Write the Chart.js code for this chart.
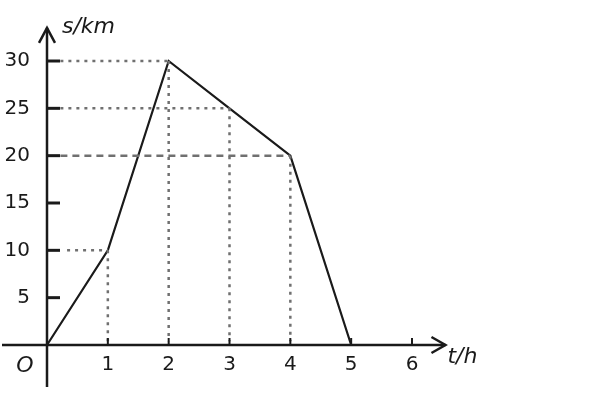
<!DOCTYPE html>
<html>
<head>
<meta charset="utf-8">
<script src="https://cdn.jsdelivr.net/npm/chart.js@4"></script>
<style>
  body { margin: 0; background: #fff; }
  #wrap { width: 600px; height: 400px; }
</style>
</head>
<body>
<div id="wrap"><canvas id="graph" width="600" height="400"></canvas></div>
<script>
// values
const times = [0, 1, 2, 3, 4, 5];
const distances = [0, 10, 30, 25, 20, 0];
const xTicks = [1, 2, 3, 4, 5, 6];
const yTicks = [5, 10, 15, 20, 25, 30];
const guideIdx = [1, 2, 3, 4];   // points that get dotted guides

const ink = '#1a1a1a';
const guideColor = '#707070';

// guide datasets: horizontal to y axis, vertical down to x axis
const guides = [];
guideIdx.forEach(i => {
    const t = times[i], s = distances[i];
    const dashed = s === 20;
    guides.push({
        data: [{ x: s === 10 ? 0.33 : 0.22, y: s }, { x: t, y: s }],
        borderColor: guideColor, borderWidth: 2.5,
        borderDash: dashed ? [7, 5] : [3, 5],
        pointRadius: 0, clip: false
    });
    guides.push({
        data: [{ x: t, y: s }, { x: t, y: 0.4 }],
        borderColor: guideColor, borderWidth: 2.5,
        borderDash: [3, 5],
        pointRadius: 0, clip: false
    });
});

// axes, arrows, ticks and labels in the textbook style
const axesPlugin = {
    id: 'axes',
    afterDraw(chart) {
        const ctx = chart.ctx;
        const xs = chart.scales.x, ys = chart.scales.y;
        const ox = xs.getPixelForValue(0), oy = ys.getPixelForValue(0);
        const xEnd = xs.getPixelForValue(6.55), yEnd = ys.getPixelForValue(33.5);
        ctx.save();
        ctx.strokeStyle = ink;
        ctx.fillStyle = ink;
        ctx.lineWidth = 2.5;
        ctx.lineCap = 'butt';
        // x axis
        ctx.beginPath();
        ctx.moveTo(2, oy); ctx.lineTo(xEnd, oy);
        ctx.stroke();
        // y axis
        ctx.beginPath();
        ctx.moveTo(ox, 387); ctx.lineTo(ox, yEnd);
        ctx.stroke();
        // arrow heads
        ctx.beginPath();
        ctx.moveTo(ox - 8, yEnd + 15); ctx.lineTo(ox, yEnd); ctx.lineTo(ox + 8, yEnd + 15);
        ctx.moveTo(xEnd - 14, oy - 8); ctx.lineTo(xEnd, oy); ctx.lineTo(xEnd - 14, oy + 8);
        ctx.stroke();

        // y ticks
        ctx.lineWidth = 3;
        ctx.font = '20px "DejaVu Sans", Verdana, sans-serif';
        ctx.textAlign = 'right';
        ctx.textBaseline = 'middle';
        yTicks.forEach(v => {
            const py = ys.getPixelForValue(v);
            ctx.beginPath();
            ctx.moveTo(ox, py); ctx.lineTo(ox + 13, py);
            ctx.stroke();
            ctx.fillText(String(v), 30, py);
        });

        // x ticks
        ctx.lineWidth = 2;
        ctx.textAlign = 'center';
        ctx.textBaseline = 'top';
        xTicks.forEach(v => {
            const px = xs.getPixelForValue(v);
            ctx.beginPath();
            ctx.moveTo(px, oy); ctx.lineTo(px, oy - 7);
            ctx.stroke();
            ctx.fillText(String(v), px, oy + 10);
        });

        // axis names and origin
        ctx.font = 'italic 22px "DejaVu Sans", Verdana, sans-serif';
        ctx.textAlign = 'left';
        ctx.textBaseline = 'middle';
        ctx.fillText('s/km', ox + 15, 27);
        ctx.fillText('t/h', xEnd + 2, oy + 12);
        ctx.textAlign = 'center';
        ctx.fillText('O', 25, oy + 21);
        ctx.restore();
    }
};

new Chart(document.getElementById('graph'), {
    type: 'line',
    data: {
        datasets: [
            ...guides,
            {
                data: times.map((t, i) => ({ x: t, y: distances[i] })),
                borderColor: ink, borderWidth: 2.2,
                pointRadius: 0, tension: 0, clip: false
            }
        ]
    },
    options: {
        responsive: false,
        animation: false,
        layout: { padding: { left: 47, right: 188, top: 61, bottom: 55 } },
        plugins: { legend: { display: false }, tooltip: { enabled: false } },
        scales: {
            x: { type: 'linear', min: 0, max: 6, display: false },
            y: { type: 'linear', min: 0, max: 30, display: false }
        }
    },
    plugins: [axesPlugin]
});
</script>
</body>
</html>
